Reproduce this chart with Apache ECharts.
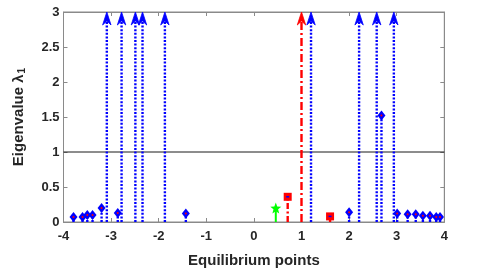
<!DOCTYPE html>
<html><head><meta charset="utf-8">
<script src="https://cdn.jsdelivr.net/npm/echarts@6/dist/echarts.min.js"></script>
<style>html,body{margin:0;padding:0;background:#fff}#c{width:491px;height:273px}</style>
</head><body><div id="c"></div>
<script>
// Data
var xTicks = [-4, -3, -2, -1, 0, 1, 2, 3, 4];
var yTicks = [0, 0.5, 1, 1.5, 2, 2.5, 3];
var blueInfX = [-3.09, -2.78, -2.49, -2.34, -1.87, 1.20, 2.21, 2.58, 2.94];
var redInfX = [1.00];
var blueX = [-3.79, -3.60, -3.50, -3.39, -3.20, -2.86, -1.43, 2.00, 2.68, 3.01, 3.23, 3.40, 3.55, 3.70, 3.83, 3.91];
var blueY = [0.07, 0.07, 0.10, 0.10, 0.20, 0.13, 0.12, 0.14, 1.52, 0.12, 0.11, 0.11, 0.09, 0.09, 0.07, 0.07];
var redX = [0.71, 1.60];
var redY = [0.36, 0.08];
var greenX = [0.46];
var greenY = [0.20];
var yMax = 3;
var threshold = 1;

function pairs(xs, ys) { return xs.map(function (x, i) { return [x, ys[i]]; }); }
var star = (function () {
  var p = [];
  for (var i = 0; i < 10; i++) {
    var r = i % 2 ? 0.42 : 1, a = -Math.PI / 2 + i * Math.PI / 5;
    p.push((i ? 'L' : 'M') + (r * Math.cos(a)).toFixed(3) + ' ' + (r * Math.sin(a)).toFixed(3));
  }
  return 'path://' + p.join(' ') + 'Z';
})();

function stemSeries(data, color, dash, width) {
  return {
    type: 'custom', data: data, z: 2, silent: true,
    renderItem: function (params, api) {
      var p0 = api.coord([api.value(0), 0]);
      var p1 = api.coord([api.value(0), api.value(1)]);
      return { type: 'line', shape: { x1: p0[0], y1: p0[1], x2: p1[0], y2: p1[1] },
        style: { stroke: color, lineWidth: width, lineDash: dash } };
    }
  };
}
function infSeries(xs, color, dash, width) {
  return {
    type: 'custom', data: xs.map(function (x) { return [x, yMax]; }), z: 3, silent: true, clip: false,
    renderItem: function (params, api) {
      var p0 = api.coord([api.value(0), 0]);
      var p1 = api.coord([api.value(0), api.value(1)]);
      var x = p1[0], t = p1[1];
      return { type: 'group', children: [
        { type: 'line', shape: { x1: x, y1: p0[1], x2: x, y2: t + 9 },
          style: { stroke: color, lineWidth: width, lineDash: dash } },
        { type: 'polygon', shape: { points: [[x, t], [x - 4.2, t + 13], [x, t + 9], [x + 4.2, t + 13]] },
          style: { fill: color, stroke: color, lineWidth: 0.8 } }
      ] };
    }
  };
}

var axisLabelStyle = { color: '#262626', fontFamily: 'Liberation Sans', fontWeight: 'bold', fontSize: 13 };
var chart = echarts.init(document.getElementById('c'), null, { renderer: 'canvas' });
chart.setOption({
  animation: false,
  grid: { left: 63.5, right: 46.7, top: 12, bottom: 48.7, show: true, borderColor: '#8a8a8a', borderWidth: 1 },
  xAxis: [{
    type: 'value', min: -4, max: 4, interval: 1, position: 'bottom',
    axisLine: { show: true, onZero: false, lineStyle: { color: '#8a8a8a' } },
    axisTick: { show: true, inside: true, length: 4, lineStyle: { color: '#8a8a8a' } },
    splitLine: { show: false },
    axisLabel: Object.assign({ margin: 8, formatter: function (v) { return xTicks.indexOf(v) >= 0 ? String(v) : ''; } }, axisLabelStyle),
    name: 'Equilibrium points', nameLocation: 'middle', nameGap: 31,
    nameTextStyle: { color: '#262626', fontFamily: 'Liberation Sans', fontWeight: 'bold', fontSize: 15 }
  }, {
    type: 'value', min: -4, max: 4, interval: 1, position: 'top',
    axisLine: { show: true, onZero: false, lineStyle: { color: '#8a8a8a' } },
    axisTick: { show: true, inside: true, length: 4, lineStyle: { color: '#8a8a8a' } },
    axisLabel: { show: false }, splitLine: { show: false }
  }],
  yAxis: [{
    type: 'value', min: 0, max: 3, interval: 0.5, position: 'left',
    axisLine: { show: true, onZero: false, lineStyle: { color: '#8a8a8a' } },
    axisTick: { show: true, inside: true, length: 4, lineStyle: { color: '#8a8a8a' } },
    splitLine: { show: false },
    axisLabel: Object.assign({ margin: 4, formatter: function (v) { return yTicks.indexOf(v) >= 0 ? String(v) : ''; } }, axisLabelStyle),
    name: '{a|Eigenvalue λ}{s|1}', nameLocation: 'middle', nameGap: 36,
    nameTextStyle: { color: '#262626', fontFamily: 'Liberation Sans', fontSize: 15,
      rich: { a: { fontFamily: 'Liberation Sans', fontSize: 15, fontWeight: 'bold', color: '#262626' },
              s: { fontFamily: 'Liberation Sans', fontSize: 10, fontWeight: 'bold', color: '#262626', padding: [7, 0, 0, 1] } } }
  }, {
    type: 'value', min: 0, max: 3, interval: 0.5, position: 'right',
    axisLine: { show: true, onZero: false, lineStyle: { color: '#8a8a8a' } },
    axisTick: { show: true, inside: true, length: 4, lineStyle: { color: '#8a8a8a' } },
    axisLabel: { show: false }, splitLine: { show: false }
  }],
  series: [
    { type: 'line', data: [[-4, threshold], [4, threshold]], symbol: 'none', silent: true, z: 1,
      lineStyle: { color: '#1a1a1a', width: 1 } },
    infSeries(blueInfX, '#0000ff', [2, 1.6], 2.4),
    infSeries(redInfX, '#ff0000', [8, 3, 2, 3], 2.4),
    stemSeries(pairs(blueX, blueY), '#0000ff', [2, 1.6], 2.4),
    stemSeries(pairs(redX, redY), '#ff0000', [6, 2.5, 2, 2.5], 2.4),
    stemSeries(pairs(greenX, greenY), '#00ff00', null, 2),
    { type: 'scatter', data: pairs(blueX, blueY), symbol: 'diamond', symbolSize: [8, 10], z: 5, silent: true,
      itemStyle: { color: '#0000ff', opacity: 1 } },
    { type: 'scatter', data: pairs(blueX, blueY), symbol: 'circle', symbolSize: 2, z: 6, silent: true,
      itemStyle: { color: '#ff0000', opacity: 1 } },
    { type: 'scatter', data: pairs(redX, redY), symbol: 'rect', symbolSize: 8, z: 5, silent: true,
      itemStyle: { color: '#ff0000', opacity: 1 } },
    { type: 'scatter', data: pairs(redX, redY), symbol: 'rect', symbolSize: [3, 1.5], z: 6, silent: true,
      itemStyle: { color: '#0000ff', opacity: 1 } },
    { type: 'scatter', data: pairs(greenX, greenY), symbol: star, symbolSize: 11, z: 5, silent: true,
      itemStyle: { color: '#00ff00', opacity: 1 } }
  ]
});
</script></body></html>
